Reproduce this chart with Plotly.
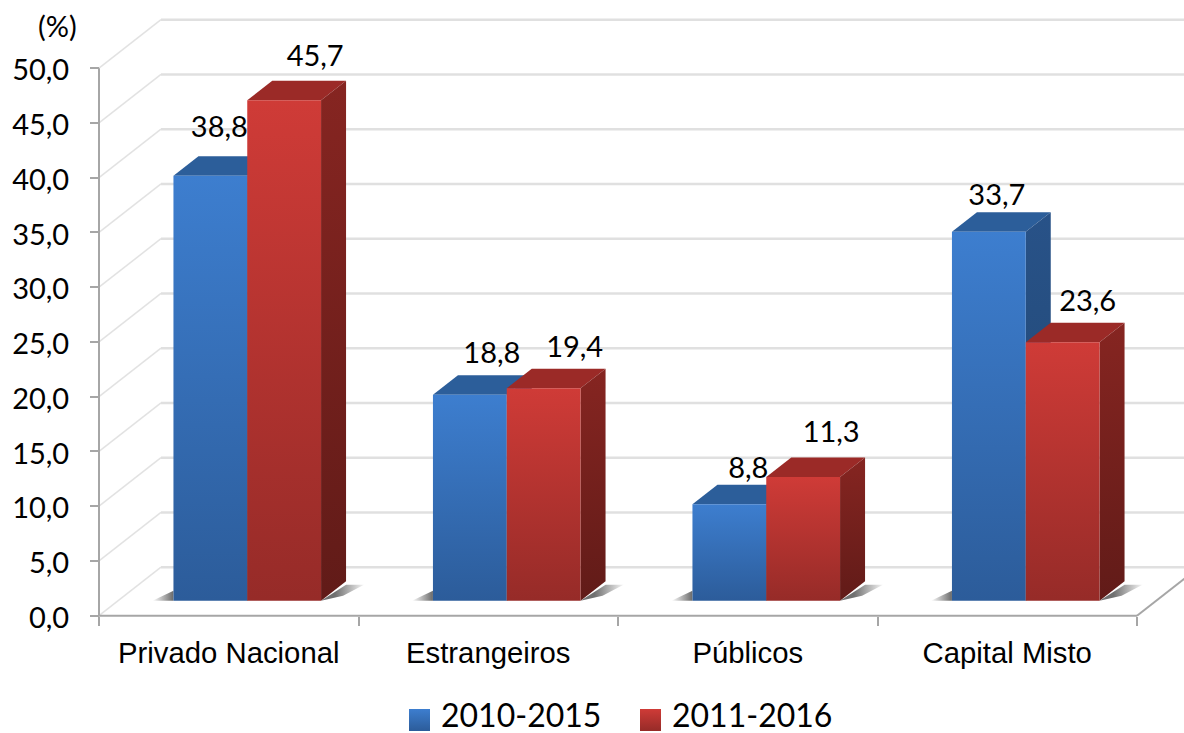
import plotly.graph_objects as go

categories = ["Privado Nacional", "Estrangeiros", "Públicos", "Capital Misto"]
series_names = ["2010-2015", "2011-2016"]
values_2010_2015 = [38.8, 18.8, 8.8, 33.7]
values_2011_2016 = [45.7, 19.4, 11.3, 23.6]
y_ticks = [0, 5, 10, 15, 20, 25, 30, 35, 40, 45, 50]

W, H = 1184, 733
X0, Y0, XU, YU = 99.0, 615.7, 259.5, 10.95  # pixel origin and pixels per axis unit
WALL_DX, WALL_DY = 62.0, 48.5               # depth of the chart box in pixels
BAR_OFF_X, BAR_OFF_Y = 18.5, 15.0           # bars stand part-way into the box
BAR_DX, BAR_DY = 25.0, 19.5                 # depth of a bar in pixels
BAR_W = 73.8

def ux(px):  # horizontal pixel length to axis units
    return px / XU

def uy(px):  # vertical pixel length to axis units
    return px / YU

def xp(px):  # absolute pixel to axis
    return (px - X0) / XU

def yp(py):
    return (Y0 - py) / YU

STYLE = [
    dict(front=("#2C5C9A", "#3D7ECF"), side=("#204670", "#285288"), top="#2C5E9A"),
    dict(front=("#962B28", "#CF3B37"), side=("#611B18", "#862521"), top="#9B2A27"),
]
GRID = "#E0E0E0"
AXIS = "#A6A6A6"
FONT = "Lato"

fig = go.Figure()

def line(xs, ys, color, width):
    fig.add_trace(go.Scatter(x=xs, y=ys, mode="lines", showlegend=False, hoverinfo="skip",
                             line=dict(color=color, width=width)))

def poly(xs, ys, solid=None, grad=None, kind="vertical", span=None):
    if solid:
        kw = dict(fillcolor=solid)
    else:
        g = dict(type=kind, colorscale=[[0, grad[0]], [1, grad[1]]])
        if span:
            g.update(start=span[0], stop=span[1])
        kw = dict(fillgradient=g)
    fig.add_trace(go.Scatter(x=xs + xs[:1], y=ys + ys[:1], mode="lines", fill="toself",
                             showlegend=False, hoverinfo="skip", line=dict(width=0), **kw))

# back wall grid and side wall
wdx, wdy = ux(WALL_DX), uy(WALL_DY)
x_end = xp(W)
for v in y_ticks:
    line([0, wdx], [v, v + wdy], "#E2E2E2", 1.5)
    line([wdx, x_end], [v + wdy, v + wdy], GRID, 2.5)

# floor right edge and axes
n = len(categories)
line([n, n + wdx], [0, wdy], AXIS, 2)
line([0, 0], [0, 50], AXIS, 2)
line([0, n], [0, 0], AXIS, 2)

all_values = [values_2010_2015, values_2011_2016]
off_x, off_y = ux(BAR_OFF_X), uy(BAR_OFF_Y)
bw = ux(BAR_W)
ddx, ddy = ux(BAR_DX), uy(BAR_DY)

# floor shadows
for c in range(n):
    left = c + off_x + (1 - 2 * bw) / 2
    right = left + 2 * bw
    poly([right, right + ddx, right + ddx + ux(18), right + ux(22)],
         [off_y, off_y + uy(16), off_y + uy(16), off_y + uy(5)],
         grad=("#707070", "#FFFFFF"), kind="horizontal",
         span=(right + ux(14), right + ddx + ux(20)))
    poly([left - ux(21), left, left],
         [off_y, off_y, off_y + uy(10)],
         grad=("#FFFFFF", "#6A6A6A"), kind="horizontal")

# bars: top, side, front of each box, drawn from their values
for c in range(n):
    left = c + off_x + (1 - 2 * bw) / 2
    for s, vals in enumerate(all_values):
        st = STYLE[s]
        x1 = left + s * bw
        x2 = x1 + bw
        top = off_y + vals[c]
        poly([x1, x1 + ddx, x2 + ddx, x2], [top, top + ddy, top + ddy, top], solid=st["top"])
        poly([x2, x2 + ddx, x2 + ddx, x2], [off_y, off_y + ddy, top + ddy, top], grad=st["side"])
        poly([x1, x2, x2, x1], [off_y, off_y, top, top], grad=st["front"])

# data labels, offset from each bar centre (pixels) as in the original
label_dx = [[9, 22, 19, 8], [31, 31, 28, 25]]
label_dy = [[46, 39, 34, 34], [42, 39, 42, 39]]
lx, ly, lt = [], [], []
for c in range(n):
    left = c + off_x + (1 - 2 * bw) / 2
    for s, vals in enumerate(all_values):
        lx.append(left + (s + 0.5) * bw + ux(label_dx[s][c]))
        ly.append(off_y + vals[c] + uy(label_dy[s][c]))
        lt.append(f"{vals[c]:.1f}".replace(".", ","))
fig.add_trace(go.Scatter(x=lx, y=ly, mode="text", text=lt, textposition="middle center",
                         showlegend=False, hoverinfo="skip",
                         textfont=dict(family=FONT, size=29, color="#000000")))

# legend
for px, py, name, st in [(409, 439, series_names[0], STYLE[0]), (640, 670, series_names[1], STYLE[1])]:
    poly([xp(px), xp(px + 21), xp(px + 21), xp(px)], [yp(731), yp(731), yp(709), yp(709)], grad=st["front"])
    fig.add_annotation(x=xp(py), y=yp(714), text=name, showarrow=False, xanchor="left",
                       yanchor="middle", font=dict(family=FONT, size=32, color="#000000"))

fig.add_annotation(x=xp(57), y=yp(25), text="(%)", showarrow=False,
                   font=dict(family=FONT, size=29, color="#000000"))

fig.update_layout(
    width=W, height=H, margin=dict(l=0, r=0, t=0, b=0), autosize=False,
    paper_bgcolor="white", plot_bgcolor="white", showlegend=False,
    xaxis=dict(range=[xp(0), xp(W)], anchor="free", position=(H - Y0) / H, showgrid=False,
               zeroline=False, showline=False, tickmode="array",
               tickvals=[c + 0.5 for c in range(n)], ticktext=categories, ticks="outside", ticklen=0,
               tickfont=dict(family="Liberation Sans", size=29.3, color="#000000"),
               ticklabelstandoff=11,
               minor=dict(tickmode="array", tickvals=list(range(n + 1)), ticks="outside",
                          ticklen=9, tickwidth=2, tickcolor=AXIS, showgrid=False)),
    yaxis=dict(range=[yp(H), yp(0)], anchor="free", position=X0 / W, showgrid=False,
               zeroline=False, showline=False, tickmode="array", tickvals=y_ticks,
               ticktext=[f"{v:.1f}".replace(".", ",") for v in y_ticks],
               ticks="outside", ticklen=9, tickwidth=2, tickcolor=AXIS,
               ticklabelstandoff=15, ticklabelshift=2,
               tickfont=dict(family=FONT, size=29, color="#000000")),
)
fig.write_html("out.html", config=dict(displayModeBar=False),
               post_script="document.body.style.margin='0';document.documentElement.style.overflow='hidden';")
